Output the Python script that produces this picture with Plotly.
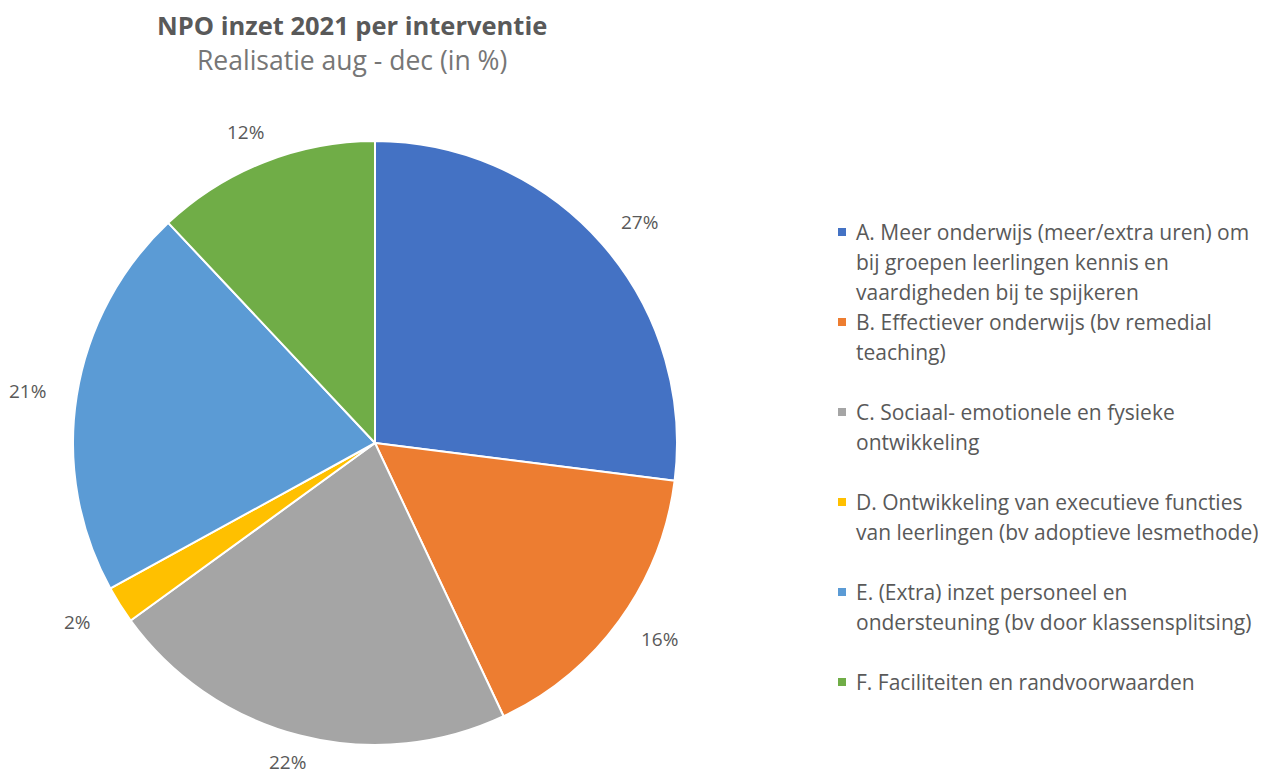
import math
import plotly.graph_objects as go

# page body has an 8px margin; figure sized to fill the remaining window
OFF = 8
W, H = 1266 - OFF, 778 - OFF

categories = [
    "A. Meer onderwijs (meer/extra uren) om bij groepen leerlingen kennis en vaardigheden bij te spijkeren",
    "B. Effectiever onderwijs (bv remedial teaching)",
    "C. Sociaal- emotionele en fysieke ontwikkeling",
    "D. Ontwikkeling van executieve functies van leerlingen (bv adoptieve lesmethode)",
    "E. (Extra) inzet personeel en ondersteuning (bv door klassensplitsing)",
    "F. Faciliteiten en randvoorwaarden",
]
legend_lines = [
    ["A. Meer onderwijs (meer/extra uren) om", "bij groepen leerlingen kennis en", "vaardigheden bij te spijkeren"],
    ["B. Effectiever onderwijs (bv remedial", "teaching)"],
    ["C. Sociaal- emotionele en fysieke", "ontwikkeling"],
    ["D. Ontwikkeling van executieve functies", "van leerlingen (bv adoptieve lesmethode)"],
    ["E. (Extra) inzet personeel en", "ondersteuning (bv door klassensplitsing)"],
    ["F. Faciliteiten en randvoorwaarden"],
]
values = [27, 16, 22, 2, 21, 12]
colors = ["#4472C4", "#ED7D31", "#A5A5A5", "#FFC000", "#5B9BD5", "#70AD47"]

FONT = "Open Sans"
TXT = "#595959"

def px(x):
    return (x - OFF) / W

def py(y):
    return 1 - (y - OFF) / H

cx, cy, r = 375, 443, 302

fig = go.Figure(go.Pie(
    labels=categories,
    values=values,
    sort=False,
    direction="clockwise",
    rotation=0,
    marker=dict(colors=colors, line=dict(color="white", width=2)),
    textinfo="none",
    hoverinfo="label+percent",
    domain=dict(x=[px(cx - r), px(cx + r)], y=[py(cy + r), py(cy - r)]),
    showlegend=False,
))

annotations = []
# percentage labels placed around the pie from cumulative values
total = sum(values)
cum = 0
for v in values:
    mid = (cum + v / 2) / total * 2 * math.pi
    cum += v
    lx = cx + 352 * math.sin(mid)
    ly = cy - 334 * math.cos(mid)
    ly = min(ly, 762)
    annotations.append(dict(
        x=px(lx), y=py(ly), xref="paper", yref="paper",
        text=f"{round(v / total * 100)}%", showarrow=False,
        font=dict(family=FONT, size=19, color=TXT),
        xanchor="center", yanchor="middle",
    ))

# title & subtitle
annotations.append(dict(
    x=px(352), y=py(25), xref="paper", yref="paper",
    text="<b>NPO inzet 2021 per interventie</b>", showarrow=False,
    font=dict(family=FONT, size=25.5, color=TXT), xanchor="center", yanchor="middle",
))
annotations.append(dict(
    x=px(352), y=py(60), xref="paper", yref="paper",
    text="Realisatie aug - dec (in %)", showarrow=False,
    font=dict(family=FONT, size=26.5, color="#767676"), xanchor="center", yanchor="middle",
))

# legend
shapes = []
y0 = 232
for i, lines in enumerate(legend_lines):
    ybase = y0 + 90 * i
    shapes.append(dict(
        type="rect", xref="paper", yref="paper",
        x0=px(838), x1=px(846), y0=py(ybase + 4), y1=py(ybase - 4),
        fillcolor=colors[i], line=dict(width=0),
    ))
    for j, line in enumerate(lines):
        annotations.append(dict(
            x=px(854), y=py(ybase + 30 * j), xref="paper", yref="paper",
            text=line, showarrow=False,
            font=dict(family=FONT, size=21, color=TXT),
            xanchor="left", yanchor="middle",
        ))

fig.update_layout(
    width=W, height=H,
    margin=dict(l=0, r=0, t=0, b=0),
    paper_bgcolor="white", plot_bgcolor="white",
    annotations=annotations, shapes=shapes,
    showlegend=False,
)

fig.write_html("out.html")
